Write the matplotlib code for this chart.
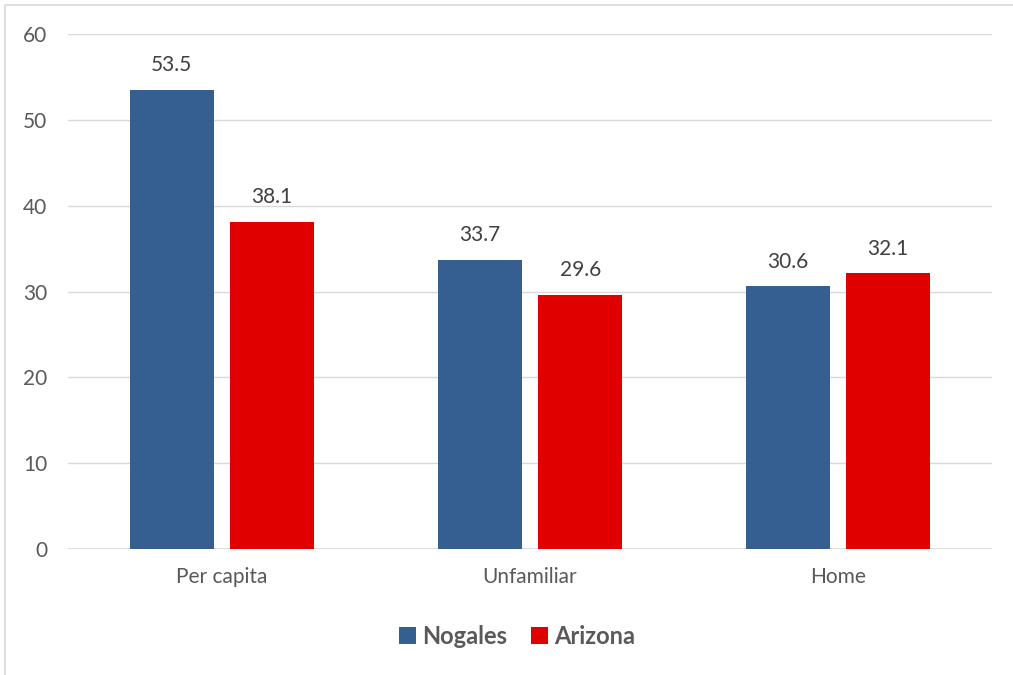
import matplotlib
matplotlib.use("Agg")
import matplotlib.pyplot as plt
import numpy as np
from matplotlib.patches import Rectangle

categories = ["Per capita", "Unfamiliar", "Home"]
nogales = [53.5, 33.7, 30.6]
arizona = [38.1, 29.6, 32.1]
series_names = ["Nogales", "Arizona"]
yticks = [0, 10, 20, 30, 40, 50, 60]

plt.rcParams['font.family'] = ['Lato', 'DejaVu Sans']

W, H = 1013, 675
fig = plt.figure(figsize=(W/100, H/100), dpi=100)
ax = fig.add_axes([68/W, 1-549/H, (992-68)/W, (549-34)/H])

x = np.arange(len(categories))
bw = 0.273
off = 0.163
c1, c2 = '#365F91', '#E00000'
b1 = ax.bar(x - off, nogales, bw, color=c1, label=series_names[0], zorder=3)
b2 = ax.bar(x + off, arizona, bw, color=c2, label=series_names[1], zorder=3)

for bars, vals in ((b1, nogales), (b2, arizona)):
    for r, v in zip(bars, vals):
        ax.text(r.get_x() + r.get_width()/2, v + 1.7, f"{v:.1f}", ha='center', va='bottom',
                fontsize=15, color='#404040')

ax.set_xlim(-0.5, 2.5)
ax.set_ylim(0, 60)
ax.set_yticks(yticks)
ax.set_xticks(x)
ax.set_xticklabels(categories)
ax.tick_params(axis='both', length=0, labelsize=15, colors='#595959')
ax.tick_params(axis='x', pad=13)
ax.tick_params(axis='y', pad=15)
ax.grid(axis='y', color='#D9D9D9', linewidth=1, zorder=0)
for s in ax.spines.values():
    s.set_visible(False)
ax.axhline(0, color='#D9D9D9', linewidth=1.2, zorder=2)

leg = ax.legend(loc='center', bbox_to_anchor=(0.486, (549-636)/(549-34)), ncol=2, frameon=False,
                prop={'weight': 'bold', 'size': 17}, handlelength=0.72, handleheight=0.72,
                handletextpad=0.25, columnspacing=1.0)
for t in leg.get_texts():
    t.set_color('#595959')

fig.patches.append(Rectangle((5/W, -0.01), 1.1, 1 - 5/H + 0.01, transform=fig.transFigure,
                             fill=False, edgecolor='#D9D9D9', linewidth=1.2))

fig.savefig("out.png", dpi=100)
